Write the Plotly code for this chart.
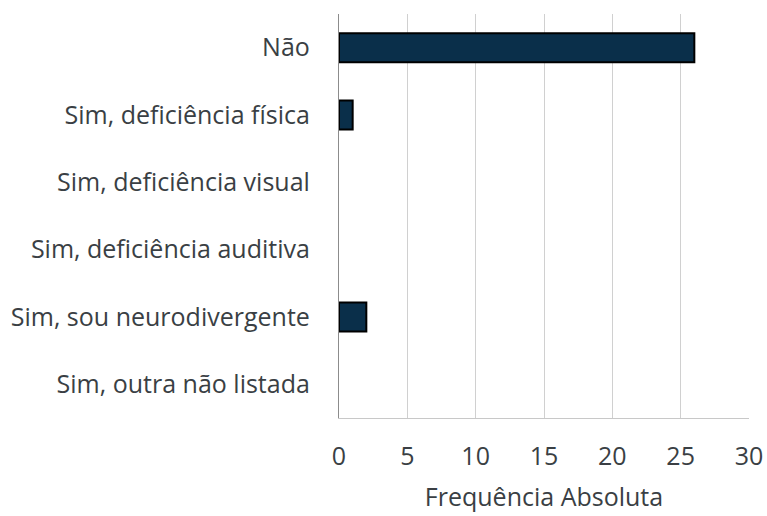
import plotly.graph_objects as go

# categories top -> bottom as in the reference
categories = [
    "Não",
    "Sim, deficiência física",
    "Sim, deficiência visual",
    "Sim, deficiência auditiva",
    "Sim, sou neurodivergente",
    "Sim, outra não listada",
]
counts = [26, 1, 0, 0, 2, 0]
x_ticks = [0, 5, 10, 15, 20, 25, 30]
x_title = "Frequência Absoluta"

FONT = "'Open Sans', Lato, sans-serif"
TXT = "#3a3f44"

# no outline on empty bars (Excel draws nothing for zero)
outline = [2 if c else 0 for c in counts]

fig = go.Figure(go.Bar(
    x=counts, y=categories, orientation="h", width=0.43,
    marker=dict(color="#0a2f4a", line=dict(color="#000000", width=outline)),
))
fig.update_layout(
    width=767, height=516, margin=dict(l=339, r=18, t=14, b=98),
    plot_bgcolor="white", paper_bgcolor="white", showlegend=False,
    font=dict(family=FONT, size=25, color=TXT),
)
fig.update_xaxes(
    range=[0, 30], tickvals=x_ticks, showgrid=True, gridcolor="#d0d0d0", gridwidth=1.3,
    showline=True, linecolor="#c8c8c8", linewidth=1.3, mirror=False, zeroline=False,
    ticks="", ticklabelstandoff=16, automargin=False,
    title=dict(text=x_title, font=dict(size=25, color=TXT), standoff=17),
)
fig.update_yaxes(
    categoryorder="array", categoryarray=categories[::-1], autorange=False, range=[-0.5, 5.5],
    showline=True, linecolor="#8c8c8c", linewidth=1.3, showgrid=False, ticks="",
    ticklabelstandoff=23, automargin=False,
)
# drop the default 8px body margin so the full 767x516 figure fits the window
fig.write_html("out.html", config={"displayModeBar": False},
               post_script="document.body.style.margin='0';")
